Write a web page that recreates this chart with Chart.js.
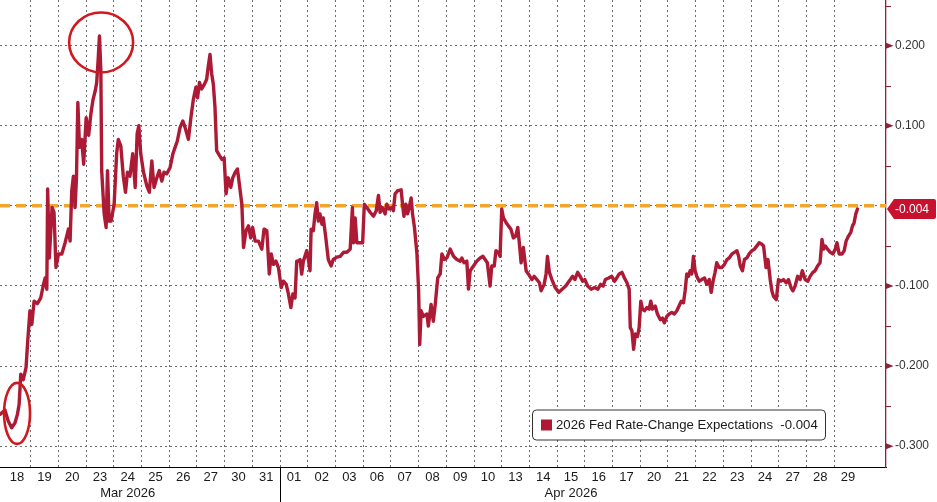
<!DOCTYPE html>
<html>
<head>
<meta charset="utf-8">
<title>2026 Fed Rate-Change Expectations</title>
<script src="https://cdn.jsdelivr.net/npm/chart.js@4.4.1/dist/chart.umd.min.js"></script>
<style>
    html, body { margin: 0; padding: 0; background: #ffffff; }
    #wrap { position: relative; width: 937px; height: 502px; }
</style>
</head>
<body>
<div id="wrap"><canvas id="rateChart"></canvas></div>
<script>
// trading-day slots on the x axis (18 Mar .. 29 Apr 2026)
const dayLabels = ["18", "19", "20", "23", "24", "25", "26", "27", "30", "31",
    "01", "02", "03", "06", "07", "08", "09", "10", "13", "14", "15", "16", "17",
    "20", "21", "22", "23", "24", "27", "28", "29"];
const monthLabels = ["Mar 2026", "Apr 2026"];
const monthLabelAt = [4.5, 20.5];
const monthStartDay = [0, 10];

const yTickValues = [0.2, 0.1, 0, -0.1, -0.2, -0.3];
const yMinorValues = [0.25, 0.15, 0.05, -0.05, -0.15, -0.25];
const refLineValue = 0;

const seriesName = "2026 Fed Rate-Change Expectations";

// intraday observations: position in trading days, value in %-pts
const obsDay = [
    -0.10, 0.07, 0.19, 0.31, 0.43, 0.52, 0.58, 0.64, 0.73, 0.83, 0.89, 0.97,
    1.04, 1.12, 1.24, 1.36, 1.46, 1.52, 1.58, 1.61, 1.67, 1.77, 1.84, 1.91,
    2.00, 2.12, 2.24, 2.36, 2.42, 2.48, 2.54, 2.60, 2.65, 2.70, 2.76, 2.84, 2.91,
    3.00, 3.09, 3.17, 3.25, 3.33, 3.38, 3.43, 3.48, 3.53, 3.56, 3.65, 3.72, 3.77, 3.83, 3.90,
    4.01, 4.10, 4.16, 4.25, 4.34, 4.42, 4.49, 4.58, 4.68, 4.77, 4.84, 4.90, 4.97,
    5.07, 5.19, 5.28, 5.37, 5.45, 5.55, 5.64, 5.73, 5.81, 5.91,
    6.03, 6.13, 6.21, 6.29, 6.39, 6.49, 6.57, 6.69, 6.78, 6.87, 6.96,
    7.02, 7.09, 7.17, 7.27, 7.35, 7.41, 7.47, 7.53, 7.59, 7.65, 7.71, 7.81, 7.90, 7.98,
    8.05, 8.13, 8.22, 8.29, 8.38, 8.46, 8.53, 8.62, 8.68, 8.77, 8.86, 8.94,
    9.01, 9.10, 9.22, 9.34, 9.42, 9.52, 9.61, 9.68, 9.76, 9.85, 9.94,
    10.04, 10.12, 10.22, 10.30, 10.39, 10.46, 10.54, 10.60, 10.64, 10.72, 10.78, 10.84, 10.96,
    11.02, 11.08, 11.12, 11.20, 11.26, 11.32, 11.38, 11.44, 11.51, 11.56, 11.65, 11.74, 11.84, 11.92,
    12.05, 12.17, 12.29, 12.41, 12.53, 12.61, 12.65, 12.71, 12.77, 12.89, 12.98,
    13.04, 13.13, 13.25, 13.37, 13.47, 13.55, 13.61, 13.69, 13.79, 13.85, 13.93,
    14.03, 14.09, 14.15, 14.25, 14.37, 14.42, 14.47, 14.54, 14.60, 14.66, 14.73, 14.78, 14.85, 14.94,
    15.00, 15.04, 15.09, 15.17, 15.30, 15.35, 15.45, 15.53, 15.60, 15.69, 15.78, 15.84, 15.93,
    16.02, 16.14, 16.26, 16.38, 16.50, 16.56, 16.64, 16.74, 16.80, 16.86, 16.98,
    17.10, 17.22, 17.32, 17.40, 17.48, 17.58, 17.64, 17.73, 17.79, 17.88, 17.94,
    18.00, 18.06, 18.16, 18.24, 18.33, 18.42, 18.50, 18.58, 18.64, 18.70, 18.78, 18.88, 18.96,
    19.09, 19.17, 19.27, 19.36, 19.42, 19.53, 19.60, 19.65, 19.72, 19.81, 19.93,
    20.06, 20.18, 20.31, 20.43, 20.56, 20.64, 20.74, 20.83, 20.92,
    21.00, 21.10, 21.23, 21.35, 21.47, 21.57, 21.66, 21.74, 21.86, 21.97,
    22.07, 22.15, 22.24, 22.34, 22.43, 22.52, 22.60, 22.64, 22.70, 22.76, 22.82, 22.90, 22.96,
    23.02, 23.08, 23.15, 23.24, 23.32, 23.38, 23.44, 23.54, 23.62, 23.72, 23.80, 23.87, 23.96,
    24.04, 24.14, 24.23, 24.32, 24.40, 24.48, 24.56, 24.62, 24.68, 24.74, 24.80, 24.86, 24.92, 24.98,
    25.04, 25.13, 25.22, 25.32, 25.40, 25.49, 25.56, 25.64, 25.70, 25.76, 25.85, 25.94,
    26.04, 26.13, 26.21, 26.31, 26.40, 26.49, 26.55, 26.61, 26.69, 26.76, 26.85, 26.93,
    27.03, 27.12, 27.21, 27.29, 27.39, 27.45, 27.54, 27.61, 27.69, 27.75, 27.81, 27.91, 27.99,
    28.08, 28.17, 28.27, 28.35, 28.44, 28.51, 28.59, 28.68, 28.77, 28.85, 28.95,
    29.05, 29.13, 29.23, 29.31, 29.40, 29.49, 29.56, 29.62, 29.68, 29.76, 29.86, 29.95,
    30.04, 30.10, 30.18, 30.28, 30.36, 30.43, 30.51, 30.60, 30.66, 30.72, 30.78, 30.84
];

const obsValue = [
    -0.260, -0.255, -0.269, -0.277, -0.271, -0.260, -0.248, -0.210, -0.217, -0.202, -0.169, -0.131,
    -0.148, -0.119, -0.122, -0.115, -0.098, -0.090, -0.104, 0.021, -0.065, -0.002, -0.008, -0.077,
    -0.060, -0.060, -0.046, -0.029, -0.044, 0.019, 0.037, -0.002, 0.035, 0.129, 0.073, 0.083, 0.052,
    0.110, 0.088, 0.115, 0.133, 0.144, 0.154, 0.181, 0.212, 0.169, 0.044, -0.010, -0.027, 0.044, -0.019, -0.019,
    0.002, 0.065, 0.083, 0.075, 0.037, 0.017, 0.042, 0.037, 0.065, 0.023, 0.090, 0.100, 0.065,
    0.042, 0.025, 0.017, 0.056, 0.023, 0.035, 0.044, 0.031, 0.042, 0.040,
    0.048, 0.065, 0.073, 0.081, 0.098, 0.106, 0.098, 0.083, 0.110, 0.133, 0.148,
    0.135, 0.154, 0.146, 0.152, 0.158, 0.175, 0.189, 0.165, 0.152, 0.123, 0.069, 0.063, 0.058, 0.060,
    0.015, 0.035, 0.023, 0.035, 0.042, 0.046, 0.027, 0.002, -0.052, -0.031, -0.025, -0.040,
    -0.027, -0.044, -0.044, -0.054, -0.029, -0.031, -0.085, -0.060, -0.073, -0.069, -0.077,
    -0.102, -0.094, -0.098, -0.110, -0.127, -0.110, -0.115, -0.069, -0.069, -0.067, -0.085, -0.069, -0.056,
    -0.067, -0.081, -0.029, -0.031, -0.010, 0.004, -0.019, -0.010, -0.023, -0.015, -0.040, -0.067, -0.075, -0.067,
    -0.064, -0.063, -0.058, -0.058, -0.054, -0.002, -0.046, -0.015, -0.046, -0.046, -0.046,
    0.002, -0.002, -0.008, -0.013, -0.006, 0.013, -0.008, -0.002, -0.010, 0.002, -0.004,
    -0.002, -0.006, 0.015, 0.019, 0.020, 0.002, -0.013, 0.002, -0.010, -0.002, 0.010, -0.010, -0.027, -0.060,
    -0.106, -0.173, -0.131, -0.138, -0.135, -0.150, -0.123, -0.144, -0.123, -0.090, -0.085, -0.060, -0.067,
    -0.065, -0.054, -0.063, -0.067, -0.069, -0.065, -0.071, -0.069, -0.104, -0.081, -0.075,
    -0.069, -0.065, -0.063, -0.067, -0.071, -0.100, -0.075, -0.075, -0.056, -0.058, -0.063,
    -0.004, -0.015, -0.021, -0.025, -0.029, -0.040, -0.038, -0.027, -0.048, -0.071, -0.052, -0.081, -0.085,
    -0.092, -0.088, -0.092, -0.096, -0.106, -0.098, -0.085, -0.063, -0.083, -0.092, -0.102,
    -0.108, -0.104, -0.100, -0.094, -0.088, -0.092, -0.083, -0.088, -0.094,
    -0.092, -0.100, -0.104, -0.102, -0.104, -0.098, -0.100, -0.092, -0.090, -0.088,
    -0.094, -0.090, -0.085, -0.083, -0.090, -0.096, -0.104, -0.152, -0.156, -0.179, -0.160, -0.163, -0.152,
    -0.119, -0.129, -0.131, -0.127, -0.129, -0.119, -0.129, -0.125, -0.135, -0.142, -0.140, -0.146, -0.138,
    -0.135, -0.133, -0.135, -0.131, -0.125, -0.119, -0.121, -0.106, -0.085, -0.088, -0.081, -0.085, -0.063, -0.081,
    -0.088, -0.094, -0.092, -0.090, -0.098, -0.092, -0.108, -0.092, -0.083, -0.071, -0.077, -0.077,
    -0.073, -0.067, -0.065, -0.060, -0.058, -0.056, -0.063, -0.075, -0.081, -0.067, -0.065, -0.060,
    -0.056, -0.054, -0.050, -0.046, -0.048, -0.050, -0.077, -0.067, -0.092, -0.106, -0.113, -0.117, -0.092,
    -0.094, -0.092, -0.096, -0.092, -0.102, -0.106, -0.100, -0.088, -0.092, -0.081, -0.092,
    -0.094, -0.088, -0.083, -0.081, -0.075, -0.071, -0.042, -0.054, -0.050, -0.054, -0.058, -0.060,
    -0.054, -0.046, -0.060, -0.060, -0.056, -0.044, -0.038, -0.033, -0.025, -0.021, -0.010, -0.004
];

// hand-drawn circles from the original, centred on data coordinates
const circleDay = [3.54, 0.505];
const circleValue = [0.204, -0.259];

const LINE_RED = "#AD1A35";
const LABEL_RED = "#C8112F";
const AXIS_RED = "#8A2238";
const ORANGE = "#F5A52B";
const GRID = "#6E6E6E";
const FONT = "'Liberation Sans', Arial, sans-serif";

const lastValue = obsValue[obsValue.length - 1];

const overlayPlugin = {
    id: "overlay",

    beforeDatasetsDraw(chart) {
        const { ctx, chartArea, scales } = chart;
        const y = scales.y.getPixelForValue(refLineValue);
        ctx.save();
        ctx.strokeStyle = ORANGE;
        ctx.lineWidth = 3.5;
        ctx.setLineDash([10, 6]);
        ctx.beginPath();
        ctx.moveTo(chartArea.left, y);
        ctx.lineTo(chartArea.right, y);
        ctx.stroke();
        ctx.restore();
    },

    afterDatasetsDraw(chart) {
        const { ctx, scales } = chart;
        const radii = [[32, 30], [13, 30.5]];
        ctx.save();
        ctx.strokeStyle = "#D0191F";
        ctx.lineWidth = 2.6;
        for (let i = 0; i < circleDay.length; i++) {
            const cx = scales.x.getPixelForValue(circleDay[i]);
            const cy = scales.y.getPixelForValue(circleValue[i]);
            ctx.beginPath();
            ctx.ellipse(cx, cy, radii[i][0], radii[i][1], 0, 0, Math.PI * 2);
            ctx.stroke();
        }
        ctx.restore();
    },

    afterDraw(chart) {
        const { ctx, chartArea, scales, width, height } = chart;
        const xs = scales.x;
        const ys = scales.y;
        const axisX = chartArea.right;

        ctx.save();

        // right axis markers
        ctx.fillStyle = AXIS_RED;
        ctx.strokeStyle = AXIS_RED;
        ctx.lineWidth = 1;
        yTickValues.forEach(v => {
            if (v === 0) return;
            const y = ys.getPixelForValue(v);
            ctx.beginPath();
            ctx.moveTo(axisX, y - 3);
            ctx.lineTo(axisX + 7.5, y);
            ctx.lineTo(axisX, y + 3);
            ctx.closePath();
            ctx.fill();
        });
        yMinorValues.forEach(v => {
            const y = Math.round(ys.getPixelForValue(v)) + 0.5;
            ctx.beginPath();
            ctx.moveTo(axisX, y);
            ctx.lineTo(axisX + 5, y);
            ctx.stroke();
        });

        // last value tag
        const ty = ys.getPixelForValue(lastValue);
        const right = width - 1;
        ctx.fillStyle = LABEL_RED;
        ctx.beginPath();
        ctx.moveTo(axisX + 1, ty);
        ctx.lineTo(axisX + 8, ty - 10);
        ctx.lineTo(right - 2, ty - 10);
        ctx.quadraticCurveTo(right, ty - 10, right, ty - 8);
        ctx.lineTo(right, ty + 8);
        ctx.quadraticCurveTo(right, ty + 10, right - 2, ty + 10);
        ctx.lineTo(axisX + 8, ty + 10);
        ctx.closePath();
        ctx.fill();
        ctx.fillStyle = "#ffffff";
        ctx.font = "12px " + FONT;
        ctx.textBaseline = "middle";
        ctx.textAlign = "left";
        ctx.fillText(lastValue.toFixed(3), axisX + 9, ty + 0.5);

        // month row under the day labels
        ctx.fillStyle = "#1a1a1a";
        ctx.font = "13px " + FONT;
        ctx.textAlign = "center";
        monthLabels.forEach((m, i) => {
            ctx.fillText(m, xs.getPixelForValue(monthLabelAt[i]), chartArea.bottom + 26);
        });
        ctx.strokeStyle = "#000000";
        monthStartDay.forEach(d => {
            if (d === 0) return;
            const x = Math.round(xs.getPixelForValue(d)) + 0.5;
            ctx.beginPath();
            ctx.moveTo(x, chartArea.bottom);
            ctx.lineTo(x, height);
            ctx.stroke();
        });

        // legend box
        ctx.font = "13.2px " + FONT;
        const legendText = seriesName + "  " + lastValue.toFixed(3);
        const tw = ctx.measureText(legendText).width;
        const boxRight = axisX - 61;
        const boxTop = chartArea.bottom - 57.5;
        const boxLeft = boxRight - tw - 31;
        ctx.fillStyle = "#ffffff";
        ctx.strokeStyle = "#333333";
        ctx.lineWidth = 1;
        ctx.beginPath();
        ctx.roundRect(Math.round(boxLeft) + 0.5, boxTop + 0.5, Math.round(boxRight - boxLeft), 30, 4);
        ctx.fill();
        ctx.stroke();
        ctx.fillStyle = LINE_RED;
        ctx.fillRect(Math.round(boxLeft) + 9, boxTop + 10, 11, 11);
        ctx.fillStyle = "#1a1a1a";
        ctx.textAlign = "left";
        ctx.fillText(legendText, Math.round(boxLeft) + 24, boxTop + 16);

        ctx.restore();
    }
};

const ctx = document.getElementById("rateChart").getContext("2d");

new Chart(ctx, {
    type: "line",
    data: {
        datasets: [
            {
                label: seriesName,
                data: obsDay.map((d, i) => ({ x: d, y: obsValue[i] })),
                borderColor: LINE_RED,
                backgroundColor: LINE_RED,
                borderWidth: 3.4,
                borderJoinStyle: "round",
                borderCapStyle: "round",
                pointRadius: 0,
                tension: 0
            }
        ]
    },
    options: {
        responsive: true,
        maintainAspectRatio: false,
        animation: false,
        layout: { padding: 0 },
        plugins: {
            legend: { display: false },
            tooltip: { enabled: false }
        },
        scales: {
            x: {
                type: "linear",
                min: -0.11,
                max: 31.87,
                afterBuildTicks: scale => {
                    scale.ticks = dayLabels.map((_, i) => ({ value: i + 0.5 }));
                },
                afterFit: scale => {
                    scale.height = 35;
                    scale.paddingLeft = 0;
                    scale.paddingRight = 0;
                },
                grid: {
                    offset: true,
                    drawTicks: false,
                    lineWidth: 1,
                    color: c => (c.index === undefined || c.index === 0) ? "rgba(0,0,0,0)" : GRID
                },
                border: { display: true, color: "#000000", width: 1, dash: [2, 3] },
                ticks: {
                    autoSkip: false,
                    maxRotation: 0,
                    padding: 3,
                    color: "#1a1a1a",
                    font: { family: FONT, size: 13 },
                    callback: (value, index) => dayLabels[index]
                }
            },
            y: {
                position: "right",
                min: -0.326,
                max: 0.257,
                afterBuildTicks: scale => {
                    scale.ticks = yTickValues.map(v => ({ value: v }));
                },
                afterFit: scale => {
                    scale.width = 51;
                    scale.paddingTop = 0;
                    scale.paddingBottom = 0;
                },
                grid: { drawTicks: false, lineWidth: 1, color: GRID },
                border: { display: true, color: AXIS_RED, width: 1.3, dash: [2, 3] },
                ticks: {
                    padding: 9,
                    color: "#333333",
                    font: { family: FONT, size: 12 },
                    callback: value => Math.abs(value) < 1e-9 ? "" : value.toFixed(3)
                }
            }
        }
    },
    plugins: [overlayPlugin]
});
</script>
</body>
</html>
